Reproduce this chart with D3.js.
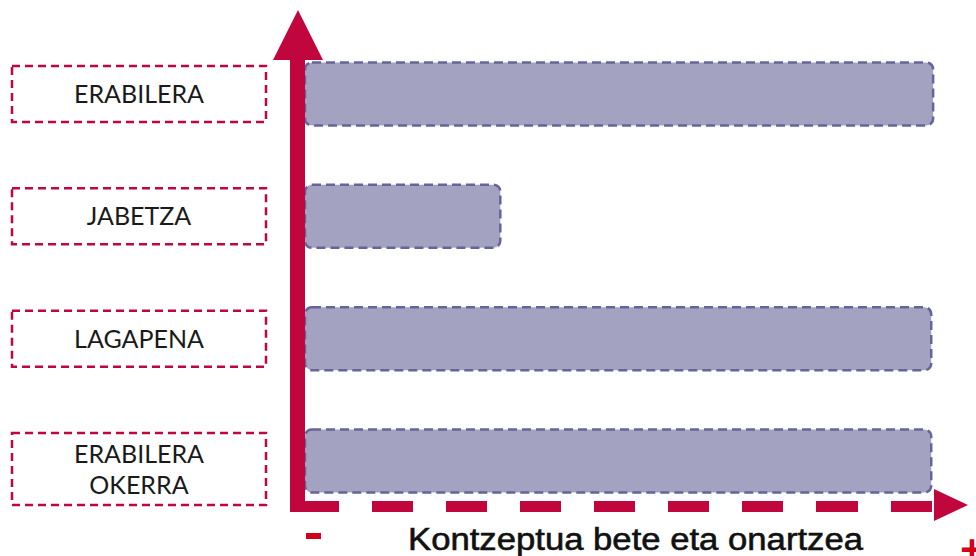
<!DOCTYPE html>
<html>
<head>
<meta charset="utf-8">
<script src="https://cdn.jsdelivr.net/npm/d3@7"></script>
<style>
  body { margin: 0; background: white; }
</style>
</head>
<body>
<div id="canvas"></div>
<script>
var w = 976;
var h = 556;

var red = "#C1063E";

// data
var categories = [["ERABILERA"], ["JABETZA"], ["LAGAPENA"], ["ERABILERA", "OKERRA"]];
var values = [99.7, 31, 99.4, 99.4];
var axisTitle = "Kontzeptua bete eta onartzea";
var minLabel = "-";
var maxLabel = "+";

var svg = d3.select("#canvas")
    .append("svg")
    .attr("width", w)
    .attr("height", h);

var x = d3.scaleLinear().domain([0, 100]).range([305, 935]);
var y = d3.scalePoint().domain(d3.range(categories.length)).range([94, 461]);
var barH = 63;

// bars
categories.forEach(function(cat, i) {
    svg.append("rect")
        .attr("x", x(0))
        .attr("y", y(i) - barH / 2)
        .attr("width", x(values[i]) - x(0))
        .attr("height", barH)
        .attr("rx", 7)
        .attr("fill", "#A3A3C1")
        .attr("stroke", "#65659A")
        .attr("stroke-width", 2.5)
        .attr("stroke-dasharray", "9,5");

    // label box
    var boxH = 56 + (cat.length - 1) * 16;
    var boxTop = y(i) - 28;
    svg.append("rect")
        .attr("x", 12)
        .attr("y", boxTop)
        .attr("width", 254)
        .attr("height", boxH)
        .attr("fill", "none")
        .attr("stroke", red)
        .attr("stroke-width", 2.5)
        .attr("stroke-dasharray", "8,5");

    var lineH = 31;
    var mid = boxTop + boxH / 2;
    cat.forEach(function(line, j) {
        svg.append("text")
            .attr("x", 139)
            .attr("y", mid + (j - (cat.length - 1) / 2) * lineH)
            .attr("dy", "0.36em")
            .attr("text-anchor", "middle")
            .attr("fill", "#1a1a1a")
            .style("font-family", "Lato, sans-serif")
            .style("font-size", "25px")
            .text(line);
    });
});

// vertical arrow
svg.append("rect")
    .attr("x", 290)
    .attr("y", 55)
    .attr("width", 15)
    .attr("height", 457)
    .attr("fill", red);
svg.append("path")
    .attr("d", "M298,10 L323,60 L273,60 Z")
    .attr("fill", red);

// horizontal dashed arrow
svg.append("line")
    .attr("x1", 290)
    .attr("y1", 506.5)
    .attr("x2", 936)
    .attr("y2", 506.5)
    .attr("stroke", red)
    .attr("stroke-width", 11)
    .attr("stroke-dasharray", "49,33,41,33,41,33,41,33,41,33,41,33,41,33,42,33,41,40");
svg.append("path")
    .attr("d", "M934,489 L968,505 L934,521 Z")
    .attr("fill", red);

// axis titles
svg.append("text")
    .attr("x", 408)
    .attr("y", 550)
    .attr("textLength", 455)
    .attr("lengthAdjust", "spacingAndGlyphs")
    .attr("fill", "#111")
    .attr("stroke", "#111")
    .attr("stroke-width", 0.6)
    .style("font-family", "Liberation Sans, Arial, sans-serif")
    .style("font-size", "31px")
    .text(axisTitle);

svg.append("rect")
    .attr("x", 306)
    .attr("y", 533)
    .attr("width", 15)
    .attr("height", 6)
    .attr("fill", "#D3001C");
svg.append("text")
    .attr("x", 972)
    .attr("y", 563)
    .attr("text-anchor", "middle")
    .attr("fill", "#D3001C")
    .style("font-family", "Liberation Sans, Arial, sans-serif")
    .style("font-weight", "bold")
    .style("font-size", "40px")
    .text(maxLabel);
</script>
</body>
</html>
